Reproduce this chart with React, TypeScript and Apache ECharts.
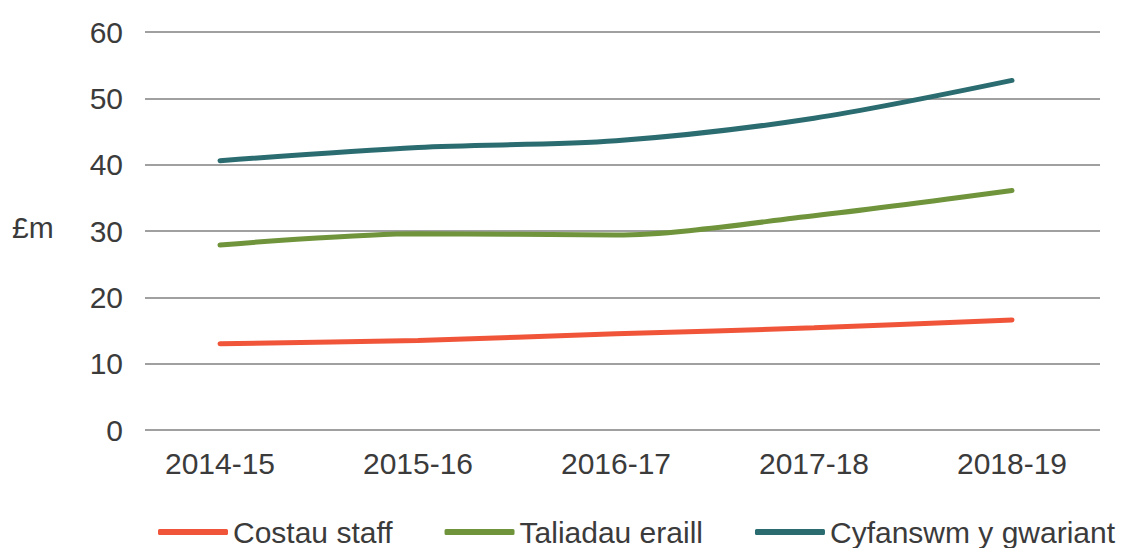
import React, { useEffect, useRef } from "react";
import * as echarts from "echarts";

const categories = ["2014-15", "2015-16", "2016-17", "2017-18", "2018-19"];
const staffCosts = [13.0, 13.5, 14.5, 15.4, 16.6];
const otherPayments = [27.9, 29.6, 29.4, 32.3, 36.1];
const totalSpend = [40.6, 42.6, 43.6, 47.0, 52.7];
const yTicks = { min: 0, max: 60, interval: 10 };

const FONT = "'Liberation Sans', Arial, sans-serif";
const TEXT = "#3b3b3b";
const FS = 30;

export default function App() {
  const ref = useRef<HTMLDivElement>(null);
  useEffect(() => {
    if (!ref.current) return;
    const chart = echarts.init(ref.current, undefined, { renderer: "svg" });
    const top = 32;
    const bottom = 548 - 430;
    chart.setOption({
      animation: false,
      textStyle: { fontFamily: FONT },
      grid: [
        { left: 145, right: 30, top, bottom },
        { left: 220, right: 118, top, bottom },
      ],
      xAxis: [
        { type: "category", gridIndex: 0, data: categories, show: false },
        {
          type: "category",
          gridIndex: 1,
          data: categories,
          boundaryGap: false,
          axisLine: { show: false },
          axisTick: { show: false },
          axisLabel: { color: TEXT, fontSize: FS, margin: 18, fontFamily: FONT },
        },
      ],
      yAxis: [
        {
          type: "value",
          gridIndex: 0,
          min: yTicks.min,
          max: yTicks.max,
          interval: yTicks.interval,
          axisLine: { show: false },
          axisTick: { show: false },
          axisLabel: { color: TEXT, fontSize: FS, margin: 22, fontFamily: FONT },
          splitLine: { lineStyle: { color: "#a0a0a0", width: 2 } },
        },
        {
          type: "value",
          gridIndex: 1,
          min: yTicks.min,
          max: yTicks.max,
          interval: yTicks.interval,
          show: false,
          splitLine: { show: false },
        },
      ],
      legend: {
        left: 153,
        top: 512,
        width: 975,
        padding: 5,
        itemWidth: 70,
        itemHeight: 6,
        itemGap: 52,
        icon: "roundRect",
        textStyle: { color: TEXT, fontSize: FS, fontFamily: FONT },
        data: ["Costau staff", "Taliadau eraill", "Cyfanswm y gwariant"],
      },
      graphic: [
        {
          type: "text",
          left: 12,
          top: 212,
          style: { text: "£m", fill: TEXT, fontSize: FS, fontFamily: FONT },
        },
      ],
      series: [
        {
          name: "Costau staff",
          type: "line",
          xAxisIndex: 1,
          yAxisIndex: 1,
          data: staffCosts,
          smooth: 0.3,
          showSymbol: false,
          color: "#f0553a",
          lineStyle: { width: 5, cap: "round" },
        },
        {
          name: "Taliadau eraill",
          type: "line",
          xAxisIndex: 1,
          yAxisIndex: 1,
          data: otherPayments,
          smooth: 0.3,
          showSymbol: false,
          color: "#6f943b",
          lineStyle: { width: 5, cap: "round" },
        },
        {
          name: "Cyfanswm y gwariant",
          type: "line",
          xAxisIndex: 1,
          yAxisIndex: 1,
          data: totalSpend,
          smooth: 0.3,
          showSymbol: false,
          color: "#2b6c71",
          lineStyle: { width: 5, cap: "round" },
        },
      ],
    });
    return () => chart.dispose();
  }, []);
  return (
    <div
      ref={ref}
      style={{ position: "fixed", left: 0, top: 0, width: 1130, height: 548, background: "#fff" }}
    />
  );
}
